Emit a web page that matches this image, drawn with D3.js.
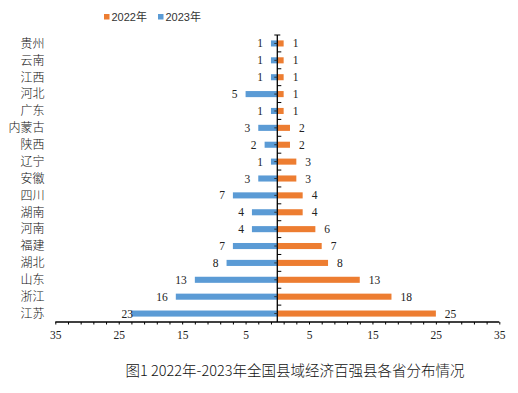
<!DOCTYPE html>
<html>
<head>
<meta charset="utf-8">
<script src="https://cdn.jsdelivr.net/npm/d3@7"></script>
<style>
  body { margin: 0; background: #fff; }
  svg { display: block; }
  .num { font-family: "Liberation Serif", "Times New Roman", serif; font-size: 11.5px; fill: #222; }
  .cat { font-family: "Noto Sans CJK SC", sans-serif; font-size: 12px; font-weight: 300; fill: #111; }
</style>
</head>
<body>
<div id="chart"></div>
<script>
// provinces, top to bottom
var provinces = ["贵州", "云南", "江西", "河北", "广东", "内蒙古", "陕西", "辽宁", "安徽",
                 "四川", "湖南", "河南", "福建", "湖北", "山东", "浙江", "江苏"];
var values2022 = [1, 1, 1, 1, 1, 2, 2, 3, 3, 4, 4, 6, 7, 8, 13, 18, 25];
var values2023 = [1, 1, 1, 5, 1, 3, 2, 1, 3, 7, 4, 4, 7, 8, 13, 16, 23];
var seriesNames = ["2022年", "2023年"];
var xTickLabels = [-35, -25, -15, -5, 5, 15, 25, 35];
var title = "图1 2022年-2023年全国县域经济百强县各省分布情况";

var width = 518, height = 393;
var margin = { top: 35, bottom: 71, left: 55.3, right: 18.7 };
var colors = { "2022年": "#ED7D31", "2023年": "#5B9BD5" };

var svg = d3.select("#chart").append("svg")
    .attr("width", width)
    .attr("height", height);

var xScale = d3.scaleLinear()
    .domain([-35, 35])
    .range([margin.left, width - margin.right]);

var yScale = d3.scaleBand()
    .domain(provinces)
    .range([margin.top, height - margin.bottom])
    .paddingInner(0.64)
    .paddingOuter(0.32);

var yBottom = height - margin.bottom;
var x0 = xScale(0);

var rows = provinces.map(function(p, i) {
    return { name: p, v22: values2022[i], v23: values2023[i] };
});

// bars - 2023 goes left, 2022 goes right
svg.append("g").selectAll("rect")
    .data(rows).enter()
    .append("rect")
        .attr("x", d => xScale(-d.v23))
        .attr("y", d => yScale(d.name))
        .attr("width", d => x0 - xScale(-d.v23))
        .attr("height", yScale.bandwidth())
        .attr("fill", colors["2023年"]);

svg.append("g").selectAll("rect")
    .data(rows).enter()
    .append("rect")
        .attr("x", x0)
        .attr("y", d => yScale(d.name))
        .attr("width", d => xScale(d.v22) - x0)
        .attr("height", yScale.bandwidth())
        .attr("fill", colors["2022年"]);

// bottom axis, ticks on odd values
var tickVals = d3.range(-35, 36, 2);
var xAxis = d3.axisBottom(xScale)
    .tickValues(tickVals)
    .tickSize(2.5)
    .tickSizeOuter(0)
    .tickFormat(d => xTickLabels.indexOf(d) >= 0 ? Math.abs(d) : "");

var gx = svg.append("g")
    .attr("transform", `translate(0,${yBottom})`)
    .call(xAxis);
gx.select(".domain").attr("stroke", "#000").attr("stroke-width", 1.3)
    .attr("d", `M${xScale(-35)},0H${xScale(35)}`);
gx.selectAll(".tick line").attr("stroke", "#000");
gx.selectAll(".tick text")
    .attr("class", "num")
    .attr("font-family", null).attr("font-size", null)
    .attr("y", 9);

// center vertical axis
var gy = svg.append("g");
gy.append("line")
    .attr("x1", x0).attr("x2", x0)
    .attr("y1", margin.top).attr("y2", yBottom)
    .attr("stroke", "#000").attr("stroke-width", 1.3);
gy.append("line")
    .attr("x1", x0 - 3).attr("x2", x0 + 3)
    .attr("y1", margin.top).attr("y2", margin.top)
    .attr("stroke", "#000");
// boundary ticks to the right
gy.selectAll(".bt")
    .data(provinces.slice(1)).enter()
    .append("line")
        .attr("x1", x0).attr("x2", x0 + 4)
        .attr("y1", d => yScale(d) - yScale.step() * yScale.paddingInner() / 2)
        .attr("y2", d => yScale(d) - yScale.step() * yScale.paddingInner() / 2)
        .attr("stroke", "#000");
// center ticks to the left
gy.selectAll(".ct")
    .data(provinces).enter()
    .append("line")
        .attr("x1", x0 - 3).attr("x2", x0)
        .attr("y1", d => yScale(d) + yScale.bandwidth() / 2)
        .attr("y2", d => yScale(d) + yScale.bandwidth() / 2)
        .attr("stroke", "#333");

// category labels
svg.append("g").selectAll("text")
    .data(rows).enter()
    .append("text")
        .attr("class", "cat")
        .attr("x", 44.5)
        .attr("y", d => yScale(d.name) + yScale.bandwidth() / 2)
        .attr("dy", "0.36em")
        .attr("text-anchor", "end")
        .text(d => d.name);

// value labels
var max23 = d3.max(values2023);
svg.append("g").selectAll("text")
    .data(rows).enter()
    .append("text")
        .attr("class", "num")
        .attr("x", d => d.v23 === max23 ? xScale(-d.v23) + 1.5 : xScale(-d.v23) - 8)
        .attr("y", d => yScale(d.name) + yScale.bandwidth() / 2)
        .attr("dy", "0.35em")
        .attr("text-anchor", "end")
        .text(d => d.v23);

svg.append("g").selectAll("text")
    .data(rows).enter()
    .append("text")
        .attr("class", "num")
        .attr("x", d => xScale(d.v22) + 9)
        .attr("y", d => yScale(d.name) + yScale.bandwidth() / 2)
        .attr("dy", "0.35em")
        .text(d => d.v22);

// legend
var legend = svg.append("g").attr("transform", "translate(104,14)");
var lx = [0, 54];
seriesNames.forEach(function(s, i) {
    var g = legend.append("g").attr("transform", `translate(${lx[i]},0)`);
    g.append("rect").attr("width", 5.5).attr("height", 5.5).attr("fill", colors[s]);
    g.append("text")
        .attr("x", 7.5).attr("y", 3)
        .attr("dy", "0.36em")
        .style("font-family", "'Liberation Sans', 'Noto Sans CJK SC', sans-serif")
        .style("font-size", "11px")
        .style("fill", "#333")
        .text(s);
});

// caption
svg.append("text")
    .attr("x", 295)
    .attr("y", 371)
    .attr("dy", "0.36em")
    .attr("text-anchor", "middle")
    .style("font-family", "'Noto Sans CJK SC', sans-serif")
    .style("font-size", "14.5px")
    .style("font-weight", 300)
    .style("white-space", "pre")
    .style("fill", "#111")
    .text(title);
</script>
</body>
</html>
